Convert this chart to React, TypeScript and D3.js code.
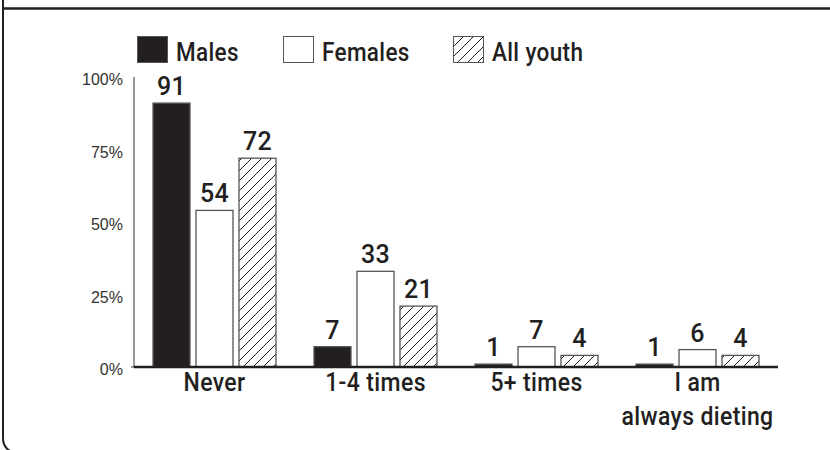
import React from "react";
import * as d3 from "d3";

// Survey: how often youth have dieted in the past year (percent)
const categories = ["Never", "1-4 times", "5+ times", "I am always dieting"];
const categoryLines = [["Never"], ["1-4 times"], ["5+ times"], ["I am", "always dieting"]];
const seriesNames = ["Males", "Females", "All youth"];
const males = [91, 7, 1, 1];
const females = [54, 33, 7, 6];
const allYouth = [72, 21, 4, 4];
const yTicks = [0, 25, 50, 75, 100];

const W = 830;
const H = 450;
const INK = "#231f20";
const COND = "Roboto, 'Liberation Sans', sans-serif";

type CondProps = {
  x: number;
  y: number;
  anchor?: "start" | "middle" | "end";
  sx?: number;
  children: React.ReactNode;
};

// Medium-weight text squeezed horizontally for a condensed look
function CondText({ x, y, anchor = "start", sx = 0.9, children }: CondProps) {
  return (
    <text
      transform={`translate(${x},${y}) scale(${sx},1)`}
      textAnchor={anchor}
      fontFamily={COND}
      fontWeight={500}
      fontSize={25}
      letterSpacing={0.4}
      fill={INK}
    >
      {children}
    </text>
  );
}

export default function App() {
  const seriesValues = [males, females, allYouth];

  const x0 = d3
    .scaleBand<string>()
    .domain(categories)
    .range([134, 778])
    .paddingInner(0.23)
    .paddingOuter(0.115);
  const x1 = d3
    .scaleBand<string>()
    .domain(seriesNames)
    .range([0, x0.bandwidth()])
    .paddingInner(0.1163)
    .paddingOuter(0);
  const y = d3.scaleLinear().domain([0, 100]).range([367, 77]);

  const fillFor = (s: string) =>
    s === "Males" ? INK : s === "Females" ? "#ffffff" : "url(#hatch)";

  const legendX = [137, 283, 453];

  return (
    <svg
      width={W}
      height={H}
      style={{ position: "absolute", left: 0, top: 0, background: "#fff" }}
    >
      <defs>
        <pattern id="hatch" patternUnits="userSpaceOnUse" width={10} height={10}>
          <rect width={10} height={10} fill="#fff" />
          <path
            d="M0,10 L10,0 M-2,2 L2,-2 M8,12 L12,8"
            stroke={INK}
            strokeWidth={1}
          />
        </pattern>
      </defs>

      {/* frame */}
      <line x1={2} x2={W} y1={8.5} y2={8.5} stroke={INK} strokeWidth={2.5} />
      <path d={`M3,0 L3,438 Q3,448 12,452`} fill="none" stroke={INK} strokeWidth={2} />

      {/* legend */}
      {seriesNames.map((s, i) => (
        <g key={s}>
          <rect
            x={legendX[i] + 0.5}
            y={36.5}
            width={30}
            height={26}
            fill={fillFor(s)}
            stroke="#555"
            strokeWidth={1}
          />
          <CondText x={legendX[i] + 39} y={61}>
            {s}
          </CondText>
        </g>
      ))}

      {/* y axis */}
      <line x1={134} x2={134} y1={y(100)} y2={y(0)} stroke="#555" strokeWidth={1.2} />
      <line x1={131} x2={134} y1={y(0)} y2={y(0)} stroke="#555" strokeWidth={1.2} />
      {yTicks.map((t) => (
        <text
          key={t}
          x={123}
          y={y(t) + 4}
          textAnchor="end"
          dominantBaseline="middle"
          fontFamily="'Liberation Sans', Arial, sans-serif"
          fontSize={16}
          fill="#333"
        >
          {t}%
        </text>
      ))}

      {/* bars */}
      {categories.map((c, ci) => (
        <g key={c}>
          {seriesNames.map((s, si) => {
            const v = seriesValues[si][ci];
            const bx = (x0(c) as number) + (x1(s) as number);
            return (
              <g key={s}>
                <rect
                  x={bx + 0.5}
                  y={y(v)}
                  width={x1.bandwidth() - 1}
                  height={y(0) - y(v)}
                  fill={fillFor(s)}
                  stroke="#555"
                  strokeWidth={1.3}
                />
                <CondText
                  x={bx + x1.bandwidth() / 2}
                  y={y(v) - 8}
                  anchor="middle"
                  sx={1}
                >
                  {v}
                </CondText>
              </g>
            );
          })}
        </g>
      ))}

      {/* baseline */}
      <line x1={134} x2={778} y1={y(0)} y2={y(0)} stroke={INK} strokeWidth={2.5} />

      {/* category labels */}
      {categories.map((c, ci) =>
        categoryLines[ci].map((line, li) => (
          <CondText
            key={c + li}
            x={(x0(c) as number) + x0.bandwidth() / 2}
            y={391 + li * 34}
            anchor="middle"
            sx={0.92}
          >
            {line}
          </CondText>
        ))
      )}
    </svg>
  );
}
